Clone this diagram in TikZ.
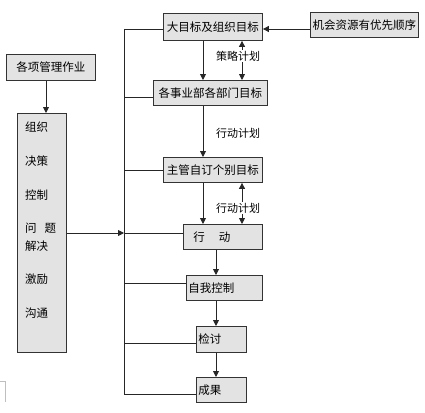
\documentclass[tikz,border=0pt]{standalone}
\usepackage{fontspec}
\newfontfamily\cjk{Noto Sans CJK SC}
\usetikzlibrary{arrows.meta}
\begin{document}
\begin{tikzpicture}[x=1pt,y=-1pt,
  box/.style={draw=black!80,line width=0.9pt,fill=black!11,inner sep=1pt,anchor=north west,font=\cjk\fontsize{11.5}{13}\selectfont},
  lbl/.style={font=\cjk\fontsize{11}{12}\selectfont,inner sep=1pt},
  item/.style={anchor=west,inner sep=1pt,font=\cjk\fontsize{11.5}{13}\selectfont},
  conn/.style={line width=0.9pt,black!85},
  arr/.style={conn,-{Triangle[length=6pt,width=6pt]}},
  darr/.style={conn,{Triangle[length=6pt,width=6pt]}-{Triangle[length=6pt,width=6pt]}}]
\useasboundingbox (0,0) rectangle (425,412);
% boxes
\node[box,minimum width=99pt,minimum height=27pt] (g1) at (163,13) {大目标及组织目标};
\node[box,minimum width=108pt,minimum height=25pt] (opp) at (310,12) {机会资源有优先顺序};
\node[box,minimum width=114pt,minimum height=25pt] (g2) at (153,80) {各事业部各部门目标};
\node[box,minimum width=99pt,minimum height=25pt] (g3) at (163,157) {主管自订个别目标};
\node[box,minimum width=79pt,minimum height=25pt,text width=75pt,align=left] (g4) at (183,224) {\hspace*{8pt}行\hspace{14pt}动};
\node[box,minimum width=76pt,minimum height=25pt,text width=72pt,align=left] (g5) at (186,275) {自我控制};
\node[box,minimum width=50pt,minimum height=26pt,text width=46pt,align=left] (g6) at (196,326) {检讨};
\node[box,minimum width=50pt,minimum height=25pt,text width=46pt,align=left] (g7) at (196,377) {成果};
\node[box,minimum width=89pt,minimum height=26pt] (mgmt) at (6,54) {各项管理作业};
\node[box,minimum width=49pt,minimum height=239pt] (acts) at (17,113) {};
% list text
\node[item] (t1) at (24,127) {组织};
\node[item] (t2) at (24,161) {决策};
\node[item] (t3) at (24,195) {控制};
\node[item] (t4) at (24,228) {问\hspace{8pt}题};
\node[item] (t5) at (24,246) {解决};
\node[item] (t6) at (24,279) {激励};
\node[item] (t7) at (24,313) {沟通};
% bus coordinates
\coordinate (b1) at (124,29);
\coordinate (b2) at (124,97);
\coordinate (b3) at (124,170);
\coordinate (b4) at (124,233);
\coordinate (b5) at (124,283);
\coordinate (b6) at (124,343);
\coordinate (b7) at (124,394);
\draw[conn] (b1) -- (b7);
\draw[conn] (b1) -- (b1 -| g1.west);
\draw[conn] (b2) -- (b2 -| g2.west);
\draw[conn] (b3) -- (b3 -| g3.west);
\draw[conn] (b4) -- (b4 -| g4.west);
\draw[conn] (b5) -- (b5 -| g5.west);
\draw[conn] (b6) -- (b6 -| g6.west);
\draw[conn] (b7) -- (b7 -| g7.west);
\draw[arr] (b4 -| acts.east) -- (b4);
\draw[arr] (opp.west |- b1) -- (g1.east |- b1);
\draw[arr] (mgmt.south -| 46,0) -- (acts.north -| 46,0);
% main chain
\draw[arr] (g1.south -| 203,0) -- (g2.north -| 203,0);
\draw[arr] (g2.south -| 203,0) -- (g3.north -| 203,0);
\draw[arr] (g3.south -| 203,0) -- (g4.north -| 203,0);
\draw[arr] (g4.south -| 216,0) -- (g5.north -| 216,0);
\draw[arr] (g5.south -| 216,0) -- (g6.north -| 216,0);
\draw[arr] (g6.south -| 216,0) -- (g7.north -| 216,0);
% double arrows with labels
\draw[darr] (g1.south -| 242,0) -- (g2.north -| 242,0);
\node[lbl,fill=white] (p1) at (238,56) {策略计划};
\node[lbl] (p2) at (238,133) {行动计划};
\draw[darr] (g3.south -| 242,0) -- (g4.north -| 242,0);
\node[lbl,fill=white] (p3) at (238,208) {行动计划};
% faint corner artifact
\draw[black!25,line width=0.6pt] (0,381) -- (5,381) -- (5,402);
\end{tikzpicture}
\end{document}
